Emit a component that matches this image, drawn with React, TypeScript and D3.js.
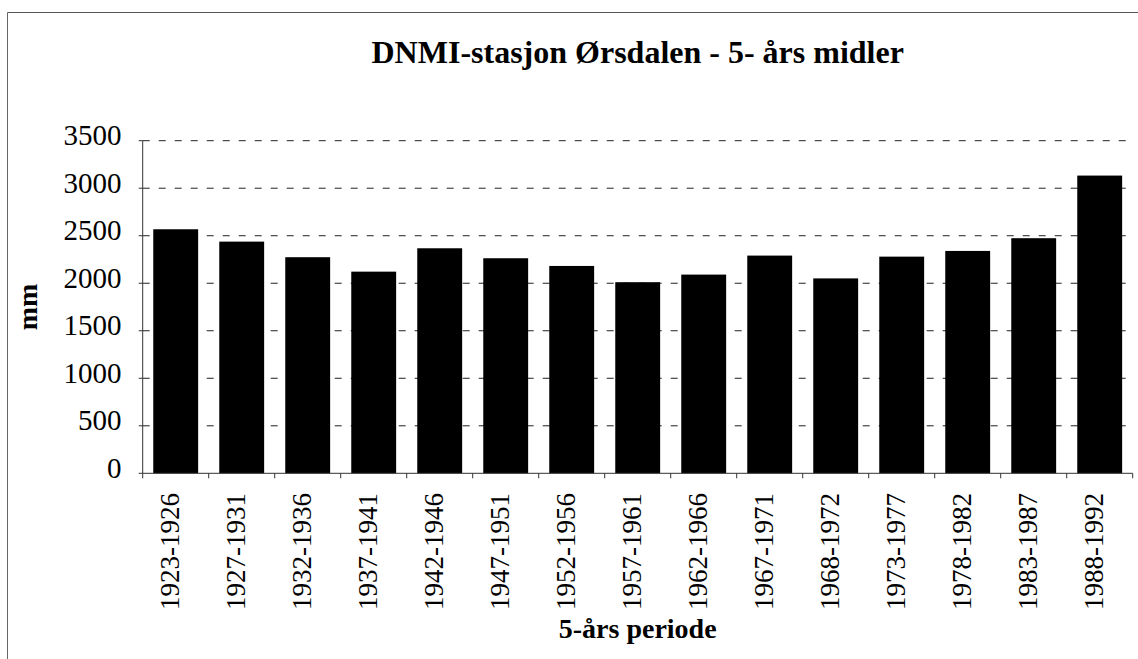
import React from "react";
import * as d3 from "d3";

const periods = [
  "1923-1926", "1927-1931", "1932-1936", "1937-1941", "1942-1946",
  "1947-1951", "1952-1956", "1957-1961", "1962-1966", "1967-1971",
  "1968-1972", "1973-1977", "1978-1982", "1983-1987", "1988-1992",
];
const precipitation = [2568, 2438, 2274, 2122, 2368, 2263, 2182, 2011, 2091, 2291, 2051, 2280, 2340, 2474, 3133];
const yTicks = [0, 500, 1000, 1500, 2000, 2500, 3000, 3500];
const title = "DNMI-stasjon Ørsdalen - 5- års midler";
const xTitle = "5-års periode";
const yTitle = "mm";

const W = 1138;
const H = 659;
const plotLeft = 142.7;
const plotRight = 1132.7;
const plotTop = 140.7;
const plotBottom = 473.3;
const FONT = "'Liberation Serif', 'Times New Roman', serif";

export default function App() {
  const x = d3.scaleBand<string>().domain(periods).range([plotLeft, plotRight]).paddingInner(0.32).paddingOuter(0.16);
  const y = d3.scaleLinear().domain([0, 3500]).range([plotBottom, plotTop]);
  const step = x.step();
  const boundaries = d3.range(periods.length + 1).map((i) => plotLeft + i * step);
  const cx = (plotLeft + plotRight) / 2;

  return (
    <svg width={W} height={H} style={{ position: "absolute", left: 0, top: 0, background: "#fff" }} fontFamily={FONT}>
      <rect x={0} y={0} width={W} height={H} fill="#fff" />
      {/* frame (top and left visible) */}
      <line x1={7.5} y1={12.5} x2={W} y2={12.5} stroke="#555" strokeWidth={1} />
      <line x1={7.5} y1={12.5} x2={7.5} y2={H} stroke="#666" strokeWidth={1} />

      <text x={cx} y={63} textAnchor="middle" fontSize={32} fontWeight="bold" fill="#000">{title}</text>

      {/* gridlines */}
      {yTicks.filter((t) => t > 0).map((t) => (
        <line key={"g" + t} x1={plotLeft} x2={plotRight} y1={y(t)} y2={y(t)} stroke="#222" strokeWidth={1} strokeDasharray="7 9" />
      ))}

      {/* bars */}
      {precipitation.map((v, i) => (
        <rect key={"b" + i} x={x(periods[i])} y={y(v)} width={x.bandwidth()} height={plotBottom - y(v)} fill="#000" />
      ))}

      {/* y axis */}
      <line x1={plotLeft} x2={plotLeft} y1={plotTop} y2={plotBottom} stroke="#333" strokeWidth={1} />
      {yTicks.map((t) => (
        <g key={"y" + t}>
          <line x1={plotLeft - 4} x2={plotLeft} y1={y(t)} y2={y(t)} stroke="#333" strokeWidth={1} />
          <text x={121.5} y={y(t) + 4.5} textAnchor="end" fontSize={29} fill="#000">{t}</text>
        </g>
      ))}

      {/* x axis */}
      <line x1={plotLeft} x2={plotRight} y1={plotBottom} y2={plotBottom} stroke="#333" strokeWidth={1} />
      {boundaries.map((bx, i) => (
        <line key={"t" + i} x1={bx} x2={bx} y1={plotBottom} y2={plotBottom + 5} stroke="#333" strokeWidth={1} />
      ))}
      {periods.map((p) => {
        const px = (x(p) as number) + x.bandwidth() / 2 - 6;
        return (
          <text key={"l" + p} transform={`translate(${px},493) rotate(-90)`} textAnchor="end" dy="0.35em" fontSize={27} fill="#000">{p}</text>
        );
      })}

      <text x={cx} y={638} textAnchor="middle" fontSize={28} fontWeight="bold" fill="#000">{xTitle}</text>
      <text transform={`translate(37,${(plotTop + plotBottom) / 2}) rotate(-90)`} textAnchor="middle" fontSize={28} fontWeight="bold" fill="#000">{yTitle}</text>
    </svg>
  );
}
